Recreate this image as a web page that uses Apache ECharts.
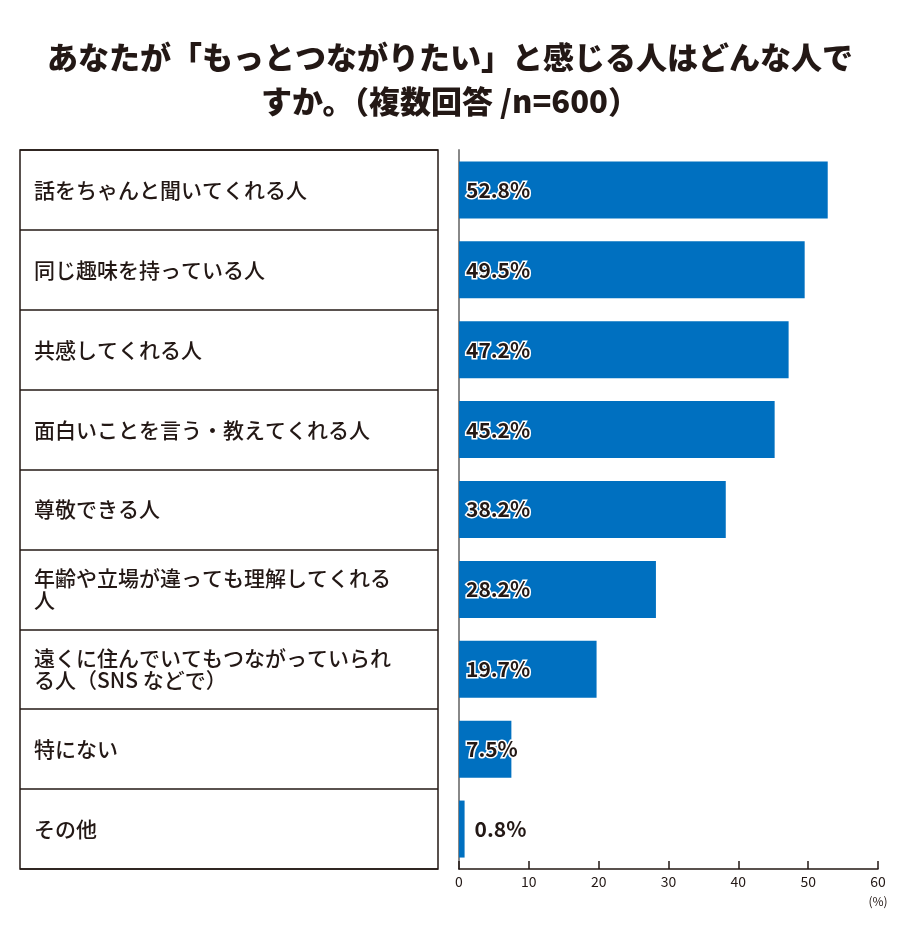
<!DOCTYPE html>
<html><head><meta charset="utf-8">
<script src="https://cdn.jsdelivr.net/npm/echarts@6/dist/echarts.min.js"></script>
<style>html,body{margin:0;padding:0;background:#fff}#c{width:900px;height:940px}</style>
</head><body><div id="c"></div>
<script>
const titleText = 'あなたが「もっとつながりたい」と感じる人はどんな人で\nすか。（複数回答 /n=600）';
const categories = ['話をちゃんと聞いてくれる人','同じ趣味を持っている人','共感してくれる人','面白いことを言う・教えてくれる人','尊敬できる人','年齢や立場が違っても理解してくれる\n人','遠くに住んでいてもつながっていられ\nる人（SNS などで）','特にない','その他'];
const values = [52.8,49.5,47.2,45.2,38.2,28.2,19.7,7.5,0.8];
const xTicks = [0,10,20,30,40,50,60];
const font = '"Noto Sans CJK JP","Noto Sans",sans-serif';
const chart = echarts.init(document.getElementById('c'));
chart.setOption({
  animation:false,
  title:{text:titleText,left:'center',top:30,textStyle:{fontFamily:font,fontSize:31,fontWeight:900,color:'#231815',lineHeight:44}},
  grid:[
    {left:459,right:22,top:150,bottom:71},
    {left:20,width:418,top:150,bottom:71,show:true,borderColor:'#231815',borderWidth:1.5,backgroundColor:'transparent'}
  ],
  xAxis:[
    {gridIndex:0,type:'value',min:xTicks[0],max:xTicks[xTicks.length-1],interval:10,
     axisLine:{show:true,lineStyle:{color:'#231815',width:1.5}},
     axisTick:{show:true,inside:true,length:8,lineStyle:{color:'#231815',width:1.5}},
     splitLine:{show:false},
     axisLabel:{fontFamily:font,fontSize:14,color:'#231815',margin:6},
     name:'(%)',nameLocation:'end',nameGap:0,
     nameTextStyle:{fontFamily:font,fontSize:12,color:'#231815',verticalAlign:'top',align:'center',padding:[26,0,0,0]}},
    {gridIndex:1,type:'value',show:false,min:0,max:1}
  ],
  yAxis:[
    {gridIndex:0,type:'category',data:categories,inverse:true,
     axisLine:{show:true,lineStyle:{color:'#888',width:2}},axisTick:{show:false},axisLabel:{show:false}},
    {gridIndex:1,type:'category',data:categories,inverse:true,
     axisLine:{show:false},axisTick:{show:false},
     splitLine:{show:true,lineStyle:{color:'#231815',width:1.5}},
     axisLabel:{inside:true,margin:14,align:'left',fontFamily:font,fontSize:21,fontWeight:500,color:'#231815',lineHeight:22}}
  ],
  series:[{
    type:'bar',xAxisIndex:0,yAxisIndex:0,barWidth:57,
    itemStyle:{color:'#0070c0'},
    data:values.map((v,i)=>i===values.length-1?{value:v,label:{position:'right',distance:10}}:v),
    label:{show:true,position:'insideLeft',distance:7,formatter:p=>p.value.toFixed(1)+'%',
      fontFamily:font,fontSize:21,fontWeight:'bold',color:'#231815',textBorderColor:'#fff',textBorderWidth:3}
  }]
});
</script></body></html>
